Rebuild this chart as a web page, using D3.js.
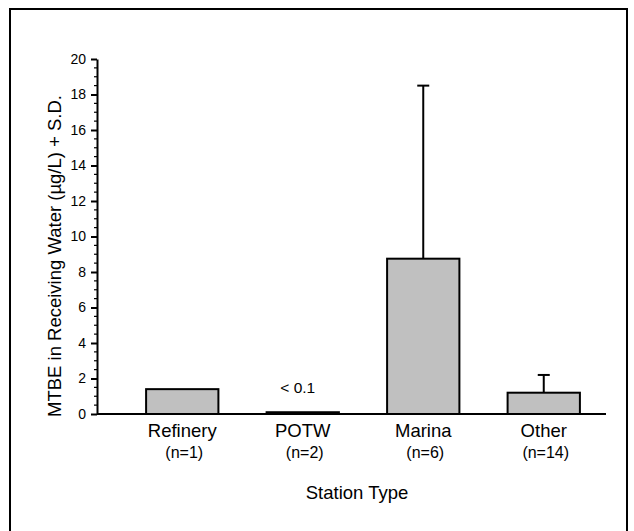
<!DOCTYPE html>
<html>
<head>
<meta charset="utf-8">
<script src="https://cdn.jsdelivr.net/npm/d3@7"></script>
<style>
  html, body { margin: 0; padding: 0; background: #fff; }
  svg { display: block; }
  text { font-family: Arial, "Liberation Sans", sans-serif; fill: #000; }
</style>
</head>
<body>
<svg id="chart" width="634" height="531"></svg>
<script>
// MTBE in receiving water by station type (mean + S.D.)

const categories = ['Refinery', 'POTW', 'Marina', 'Other'];
const counts     = ['(n=1)', '(n=2)', '(n=6)', '(n=14)'];
const means      = [1.4, 0.1, 8.75, 1.2];
const sdTops     = [null, null, 18.5, 2.2];   // mean + S.D.
const yTicks     = [0, 2, 4, 6, 8, 10, 12, 14, 16, 18, 20];
const notes      = ['', '< 0.1', '', ''];

const W = 634, H = 531;
const svg = d3.select('#chart');

// ─── Frame ───────────────────────────────────────────────────────────────────
svg.append('path')
  .attr('d', `M10,${H} L10,9 L627,9 L627,${H}`)
  .attr('fill', 'none')
  .attr('stroke', '#000')
  .attr('stroke-width', 2);

// ─── Scales ──────────────────────────────────────────────────────────────────
const y = d3.scaleLinear().domain([0, 20]).range([414, 59]);
const x = d3.scaleBand().domain(categories).range([122, 604])
  .paddingInner(0.4).paddingOuter(0.2);
const axisX0 = 97, axisX1 = 606;

// ─── Y axis ──────────────────────────────────────────────────────────────────
const minor = d3.range(0, 20.01, 0.5).filter(v => v % 2 !== 0);
svg.append('g')
  .selectAll('line')
  .data(minor)
  .join('line')
  .attr('x1', axisX0 - 3).attr('x2', axisX0)
  .attr('y1', d => y(d)).attr('y2', d => y(d))
  .attr('stroke', '#000').attr('stroke-width', 1.2);

const yAxis = svg.append('g')
  .attr('transform', `translate(${axisX0},0)`)
  .call(d3.axisLeft(y).tickValues(yTicks).tickSize(6).tickPadding(5).tickSizeOuter(0));
yAxis.select('.domain').attr('stroke-width', 2);
yAxis.selectAll('.tick line').attr('stroke-width', 2);
yAxis.selectAll('.tick text')
  .attr('font-size', 14)
  .attr('font-family', 'Arial, "Liberation Sans", sans-serif');

svg.append('text')
  .attr('transform', 'translate(61,256) rotate(-90)')
  .attr('text-anchor', 'middle')
  .attr('font-size', 18.5)
  .text('MTBE in Receiving Water (µg/L) + S.D.');

// ─── Error bars ──────────────────────────────────────────────────────────────
const errs = categories.map((c, i) => ({ c, m: means[i], top: sdTops[i] })).filter(d => d.top != null);
const eg = svg.append('g').attr('stroke', '#000').attr('stroke-width', 2);
eg.selectAll('line.v')
  .data(errs)
  .join('line')
  .attr('class', 'v')
  .attr('x1', d => x(d.c) + x.bandwidth() / 2)
  .attr('x2', d => x(d.c) + x.bandwidth() / 2)
  .attr('y1', d => y(d.m))
  .attr('y2', d => y(d.top));
eg.selectAll('line.cap')
  .data(errs)
  .join('line')
  .attr('class', 'cap')
  .attr('x1', d => x(d.c) + x.bandwidth() / 2 - 6)
  .attr('x2', d => x(d.c) + x.bandwidth() / 2 + 6)
  .attr('y1', d => y(d.top))
  .attr('y2', d => y(d.top));

// ─── Bars ────────────────────────────────────────────────────────────────────
svg.append('g')
  .selectAll('rect')
  .data(categories.map((c, i) => ({ c, v: means[i] })))
  .join('rect')
  .attr('x', d => x(d.c))
  .attr('y', d => y(d.v))
  .attr('width', x.bandwidth())
  .attr('height', d => y(0) - y(d.v))
  .attr('fill', '#c0c0c0')
  .attr('stroke', '#000')
  .attr('stroke-width', 2);

// ─── X axis line ─────────────────────────────────────────────────────────────
svg.append('line')
  .attr('x1', axisX0).attr('x2', axisX1)
  .attr('y1', y(0)).attr('y2', y(0))
  .attr('stroke', '#000').attr('stroke-width', 2);

// ─── Labels ──────────────────────────────────────────────────────────────────
const cx = c => x(c) + x.bandwidth() / 2;

svg.append('g')
  .selectAll('text')
  .data(categories)
  .join('text')
  .attr('x', d => cx(d))
  .attr('y', 437)
  .attr('text-anchor', 'middle')
  .attr('font-size', 18.5)
  .text(d => d);

svg.append('g')
  .selectAll('text')
  .data(categories.map((c, i) => ({ c, n: counts[i] })))
  .join('text')
  .attr('x', d => cx(d.c) + 2)
  .attr('y', 458)
  .attr('text-anchor', 'middle')
  .attr('font-size', 16)
  .text(d => d.n);

svg.append('g')
  .selectAll('text')
  .data(categories.map((c, i) => ({ c, t: notes[i], v: means[i] })).filter(d => d.t))
  .join('text')
  .attr('x', d => cx(d.c) - 5)
  .attr('y', d => y(d.v) - 19)
  .attr('text-anchor', 'middle')
  .attr('font-size', 15.5)
  .text(d => d.t);

svg.append('text')
  .attr('x', 357)
  .attr('y', 499)
  .attr('text-anchor', 'middle')
  .attr('font-size', 18.5)
  .text('Station Type');
</script>
</body>
</html>
